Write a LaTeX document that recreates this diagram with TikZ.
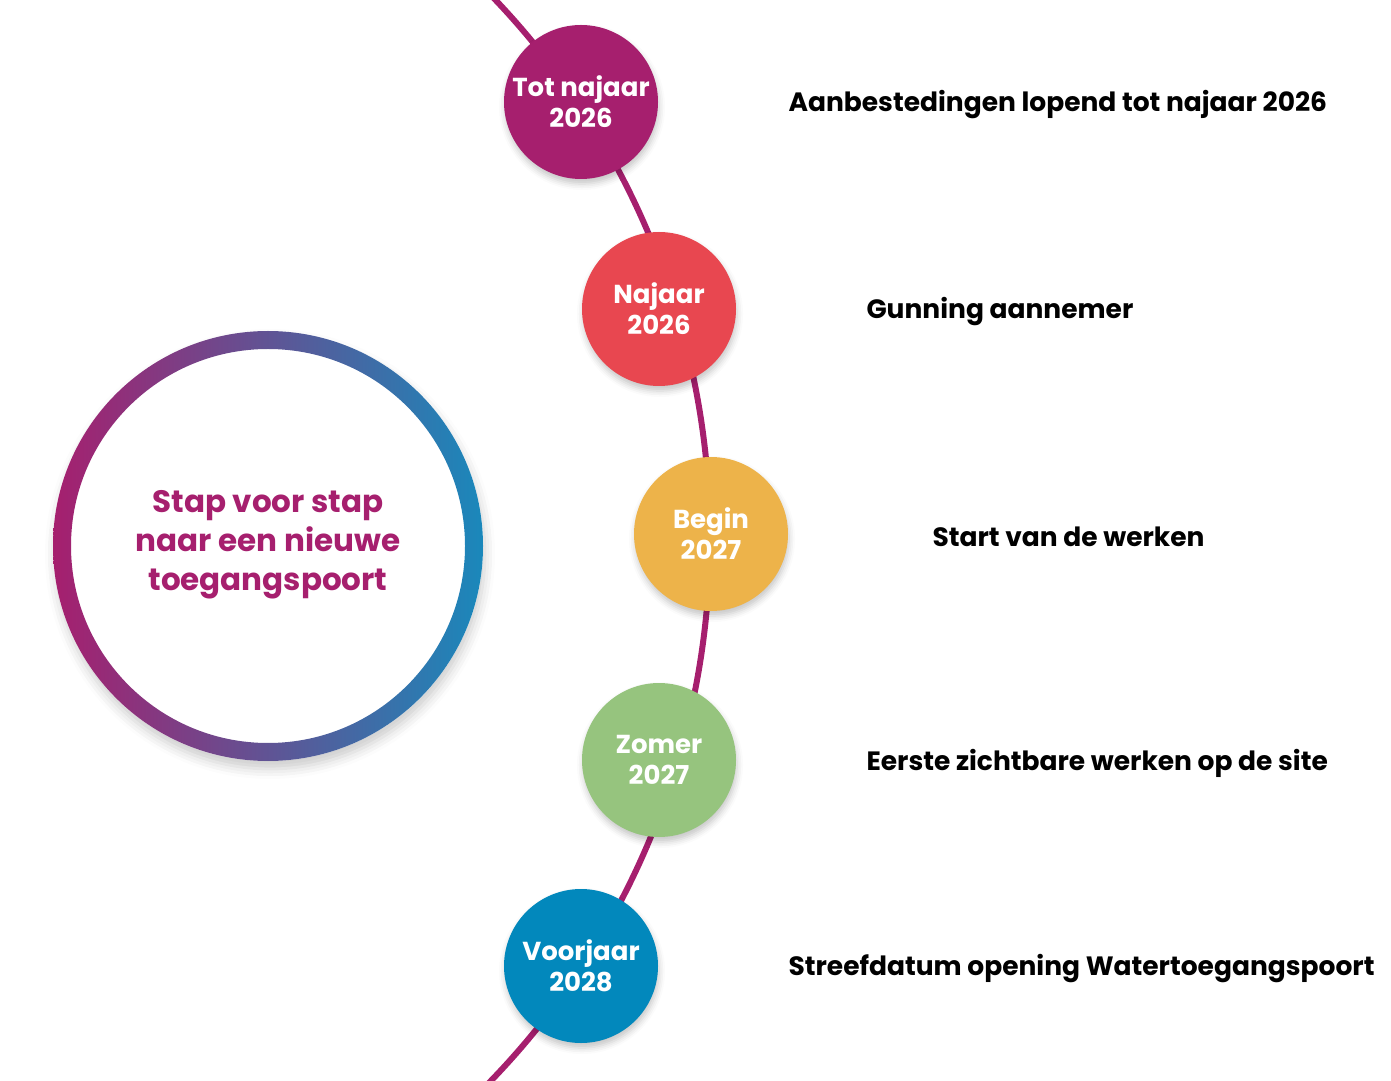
\documentclass[tikz,border=0pt]{standalone}
\usepackage{fontspec}
\setmainfont{Poppins}
\usetikzlibrary{shadows.blur,calc}

\definecolor{plum}{HTML}{A61F6E}
\definecolor{coral}{HTML}{E84750}
\definecolor{sand}{HTML}{EDB34A}
\definecolor{leaf}{HTML}{96C47E}
\definecolor{sea}{HTML}{0288BC}
\definecolor{ringblue}{HTML}{1A88BB}

\begin{document}
\begin{tikzpicture}[x=1pt, y=1pt,
  stepdot/.style={circle, minimum size=154pt, inner sep=0pt, text=white, align=center,
    font=\fontsize{26}{31}\selectfont\bfseries,
    blur shadow={shadow xshift=1pt, shadow yshift=-5pt, shadow opacity=22, shadow blur radius=6pt}},
  stepnote/.style={anchor=west, font=\fontsize{26.5}{30}\selectfont\bfseries}]
\useasboundingbox (0,0) rectangle (1391,1080);

\begin{scope}
\clip (0,0) rectangle (1391,1080);
\coordinate (arctop) at ($(-72,542)+(45:782)$);
\draw[plum, line width=6pt] (arctop) arc[start angle=45, end angle=-45, radius=782];
\end{scope}

\node[stepdot, fill=plum] (tot) at (581,978) {Tot najaar\\2026};
\node[stepdot, fill=coral] (najaar) at (659,771) {Najaar\\2026};
\node[stepdot, fill=sand] (b27) at (711,546) {Begin\\2027};
\node[stepdot, fill=leaf] (zomer) at (659,320) {Zomer\\2027};
\node[stepdot, fill=sea] (voorjaar) at (581,114) {Voorjaar\\2028};

\node[stepnote] (ntot) at (785,975) {Aanbestedingen lopend tot najaar 2026};
\node[stepnote] (nnajaar) at (863,768) {Gunning aannemer};
\node[stepnote] (nb27) at (929,543) {Start van de werken};
\node[stepnote] (nzomer) at (863,317) {Eerste zichtbare werken op de site};
\node[stepnote] (nvoorjaar) at (785,111) {Streefdatum opening Watertoegangspoort};

\fill[white, blur shadow={shadow xshift=2pt, shadow yshift=-8pt, shadow opacity=20, shadow blur radius=10pt}]
  (268,534) circle[radius=215];
\shade[left color=plum, right color=ringblue, even odd rule]
  (268,534) circle[radius=215] (268,534) circle[radius=197];
\node[text=plum, align=center, font=\fontsize{31}{39}\selectfont\bfseries] (stap) at (268,535)
  {Stap voor stap\\naar een nieuwe\\toegangspoort};
\end{tikzpicture}
\end{document}
